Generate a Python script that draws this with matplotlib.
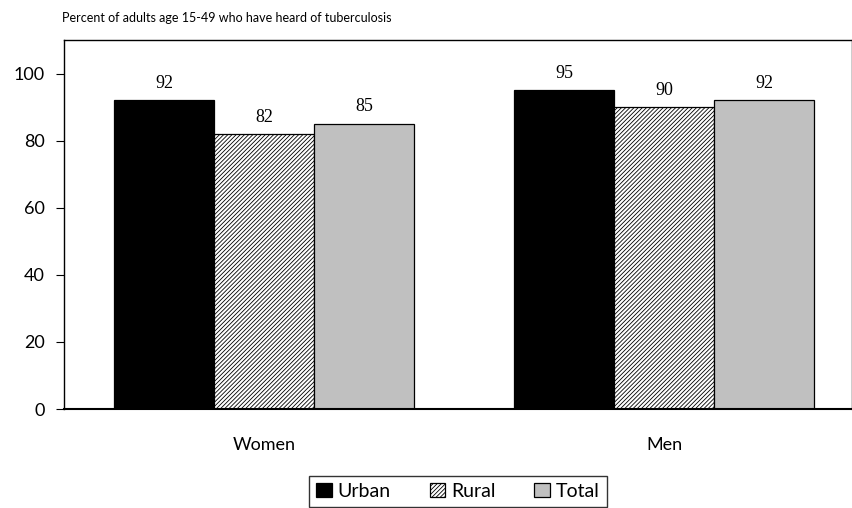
import matplotlib
matplotlib.use("Agg")
import matplotlib.pyplot as plt
import numpy as np

plt.rcParams['hatch.linewidth'] = 0.6

groups = ["Women", "Men"]
series = ["Urban", "Rural", "Total"]
values = {
    "Urban": [92, 95],
    "Rural": [82, 90],
    "Total": [85, 92],
}
yticks = [0, 20, 40, 60, 80, 100]
title = "Percent of adults age 15-49 who have heard of tuberculosis"

styles = {
    "Urban": dict(color="black", hatch=None),
    "Rural": dict(color="white", hatch="////////"),
    "Total": dict(color="#c0c0c0", hatch=None),
}

fig = plt.figure(figsize=(8.52, 5.08), dpi=100)
ax = fig.add_axes([64/852, 99/508, 788/852, 369/508])

x = np.arange(len(groups))
w = 0.25
offsets = [-w, 0, w]
for s, off in zip(series, offsets):
    st = styles[s]
    bars = ax.bar(x + off, values[s], width=w, color=st["color"], edgecolor="black",
                  linewidth=0.9, hatch=st["hatch"], label=s)
    for b, v in zip(bars, values[s]):
        ax.text(b.get_x() + b.get_width()/2, v + 2.5, str(v), ha="center", va="bottom",
                fontsize=13, family="Liberation Serif")

ax.set_xlim(-0.5, 1.47)
ax.set_ylim(0, 110)
ax.set_yticks(yticks)
ax.set_yticklabels([str(t) for t in yticks], fontsize=13, family="Lato")
ax.tick_params(axis="y", direction="out", length=6, width=0.8, pad=8)
ax.set_xticks(x)
ax.set_xticklabels(groups, fontsize=13, family="Lato")
ax.tick_params(axis="x", length=0, pad=20)
for sp in ax.spines.values():
    sp.set_linewidth(1.0)
ax.spines["bottom"].set_linewidth(1.5)

fig.text(62/852, 1 - 18/508, title, fontsize=9, family="Lato", va="center", ha="left")

leg = fig.legend(loc="upper center", bbox_to_anchor=(458/852, 1 - 466/508), ncol=3,
                 frameon=True, fancybox=False, edgecolor="black", handlelength=0.8,
                 handleheight=0.8, handletextpad=0.3, columnspacing=2.0,
                 prop={"family": "Lato", "size": 14}, borderpad=0.35)
leg.get_frame().set_linewidth(1.0)

fig.savefig("out.png", dpi=100)
